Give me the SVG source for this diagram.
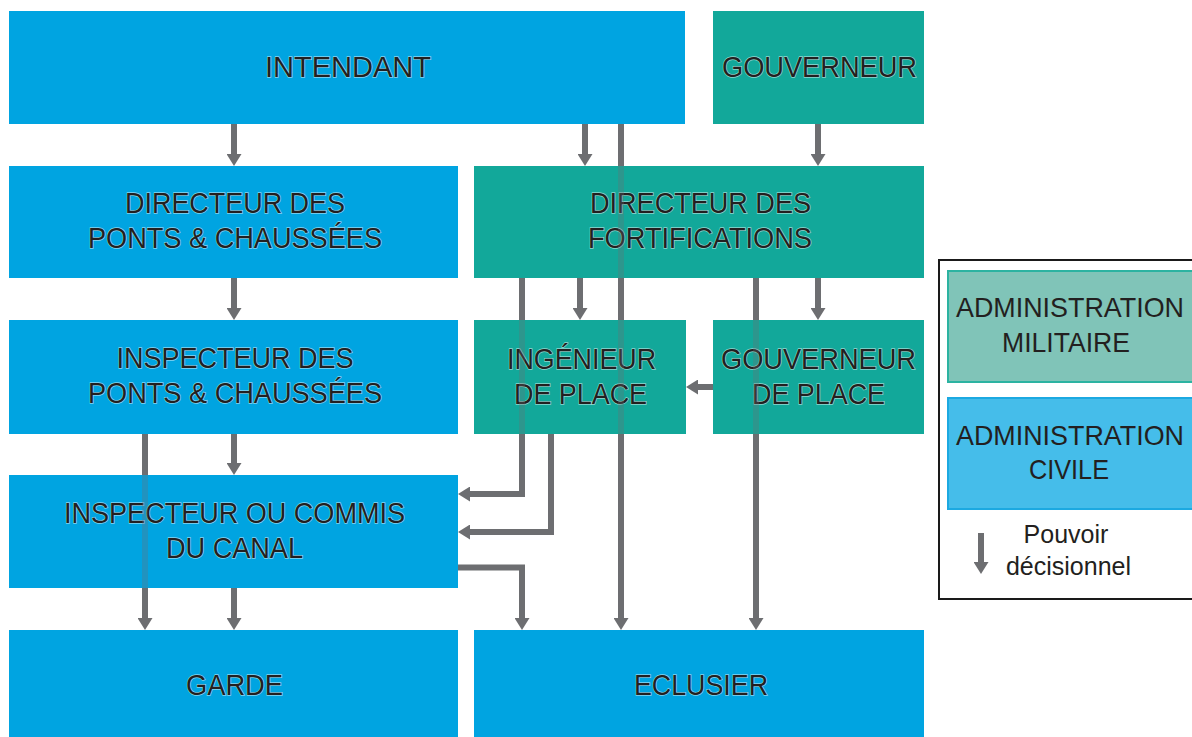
<svg xmlns="http://www.w3.org/2000/svg" width="1192" height="737" viewBox="0 0 1192 737">
  <style>
    .civ { fill: #00a4e1; }
    .mil { fill: #12a89a; }
    .lbl { font-family: "Liberation Sans", Arial, sans-serif; font-size: 30px; fill: #231f20; text-anchor: middle;
           stroke: rgba(255,255,255,0.55); stroke-width: 1.4px; paint-order: stroke fill; }
    .leg { font-family: "Liberation Sans", Arial, sans-serif; font-size: 28px; fill: #231f20; text-anchor: middle; }
    .leg2 { font-family: "Liberation Sans", Arial, sans-serif; font-size: 25px; fill: #231f20; text-anchor: middle; }
    .ln { fill: none; stroke: #6d6e71; stroke-width: 6; }
    .over { fill: none; stroke: #6d6e71; stroke-width: 6; stroke-opacity: 0.3; }
  </style>
  <defs>
    <marker id="arr" viewBox="0 0 12 15" refX="4" refY="7.5" markerWidth="12" markerHeight="15" markerUnits="userSpaceOnUse" orient="auto">
      <path d="M0,0 L12,7.5 L0,15 z" fill="#6d6e71"/>
    </marker>
  </defs>

  <rect width="1192" height="737" fill="#ffffff"/>

  <!-- organisation boxes -->
  <g id="intendant">
    <rect class="civ" x="9" y="11" width="676" height="113"/>
    <text class="lbl" x="348" y="77" textLength="166" lengthAdjust="spacingAndGlyphs">INTENDANT</text>
  </g>
  <g id="gouverneur">
    <rect class="mil" x="713" y="11" width="211" height="113"/>
    <text class="lbl" x="819.5" y="77" textLength="195" lengthAdjust="spacingAndGlyphs">GOUVERNEUR</text>
  </g>
  <g id="directeur-ponts">
    <rect class="civ" x="9" y="166" width="449" height="112"/>
    <text class="lbl" x="235" y="213" textLength="220" lengthAdjust="spacingAndGlyphs">DIRECTEUR DES</text>
    <text class="lbl" x="235" y="248" textLength="294" lengthAdjust="spacingAndGlyphs">PONTS &amp; CHAUSSÉES</text>
  </g>
  <g id="directeur-fortifications">
    <rect class="mil" x="474" y="166" width="450" height="112"/>
    <text class="lbl" x="700.5" y="213" textLength="221" lengthAdjust="spacingAndGlyphs">DIRECTEUR DES</text>
    <text class="lbl" x="700" y="248" textLength="224" lengthAdjust="spacingAndGlyphs">FORTIFICATIONS</text>
  </g>
  <g id="inspecteur-ponts">
    <rect class="civ" x="9" y="320" width="449" height="114"/>
    <text class="lbl" x="235" y="368" textLength="237" lengthAdjust="spacingAndGlyphs">INSPECTEUR DES</text>
    <text class="lbl" x="235" y="403" textLength="294" lengthAdjust="spacingAndGlyphs">PONTS &amp; CHAUSSÉES</text>
  </g>
  <g id="ingenieur-place">
    <rect class="mil" x="474" y="320" width="212" height="114"/>
    <text class="lbl" x="581.5" y="369" textLength="149" lengthAdjust="spacingAndGlyphs">INGÉNIEUR</text>
    <text class="lbl" x="580.5" y="404" textLength="133" lengthAdjust="spacingAndGlyphs">DE PLACE</text>
  </g>
  <g id="gouverneur-place">
    <rect class="mil" x="713" y="320" width="211" height="114"/>
    <text class="lbl" x="818.5" y="369" textLength="195" lengthAdjust="spacingAndGlyphs">GOUVERNEUR</text>
    <text class="lbl" x="818.5" y="404" textLength="133" lengthAdjust="spacingAndGlyphs">DE PLACE</text>
  </g>
  <g id="inspecteur-canal">
    <rect class="civ" x="9" y="475" width="449" height="113"/>
    <text class="lbl" x="234.5" y="523" textLength="341" lengthAdjust="spacingAndGlyphs">INSPECTEUR OU COMMIS</text>
    <text class="lbl" x="234.5" y="558" textLength="137" lengthAdjust="spacingAndGlyphs">DU CANAL</text>
  </g>
  <g id="garde">
    <rect class="civ" x="9" y="630" width="449" height="107"/>
    <text class="lbl" x="234.5" y="695" textLength="97" lengthAdjust="spacingAndGlyphs">GARDE</text>
  </g>
  <g id="eclusier">
    <rect class="civ" x="474" y="630" width="450" height="107"/>
    <text class="lbl" x="701" y="695" textLength="134" lengthAdjust="spacingAndGlyphs">ECLUSIER</text>
  </g>

  <!-- decision lines; parts crossing a box are drawn translucent -->
  <g id="connectors">
    <path class="ln" d="M234,124 V158" marker-end="url(#arr)"/>
    <path class="ln" d="M585,124 V158" marker-end="url(#arr)"/>
    <g>
      <path class="ln" d="M621,124 V166"/>
      <path class="over" d="M621,166 V278"/>
      <path class="ln" d="M621,278 V320"/>
      <path class="over" d="M621,320 V434"/>
      <path class="ln" d="M621,434 V622" marker-end="url(#arr)"/>
    </g>
    <path class="ln" d="M818,124 V158" marker-end="url(#arr)"/>
    <path class="ln" d="M234,278 V312" marker-end="url(#arr)"/>
    <path class="ln" d="M580,278 V312" marker-end="url(#arr)"/>
    <path class="ln" d="M818,278 V312" marker-end="url(#arr)"/>
    <g>
      <path class="ln" d="M522,278 V320"/>
      <path class="over" d="M522,320 V434"/>
      <path class="ln" d="M522,434 V494 H466" marker-end="url(#arr)"/>
    </g>
    <path class="ln" d="M551,434 V532 H466" marker-end="url(#arr)"/>
    <g>
      <path class="ln" d="M756,278 V320"/>
      <path class="over" d="M756,320 V434"/>
      <path class="ln" d="M756,434 V622" marker-end="url(#arr)"/>
    </g>
    <path class="ln" d="M713,387 H694" marker-end="url(#arr)"/>
    <g>
      <path class="ln" d="M145,434 V475"/>
      <path class="over" d="M145,475 V588"/>
      <path class="ln" d="M145,588 V622" marker-end="url(#arr)"/>
    </g>
    <path class="ln" d="M234,434 V467" marker-end="url(#arr)"/>
    <path class="ln" d="M234,588 V622" marker-end="url(#arr)"/>
    <path class="ln" d="M458,567.5 H522 V622" marker-end="url(#arr)"/>
  </g>

  <!-- legend -->
  <g id="legend">
    <rect x="939" y="260" width="262" height="339" fill="#ffffff" stroke="#1a1a1a" stroke-width="2"/>
    <rect x="948" y="271" width="250" height="111" fill="#80c4b8" stroke="#2cb3a1" stroke-width="2"/>
    <text class="leg" x="1070" y="317" textLength="228" lengthAdjust="spacingAndGlyphs">ADMINISTRATION</text>
    <text class="leg" x="1066" y="352" textLength="128" lengthAdjust="spacingAndGlyphs">MILITAIRE</text>
    <rect x="948" y="398" width="250" height="111" fill="#45bdea" stroke="#1ca9e1" stroke-width="2"/>
    <text class="leg" x="1070" y="445" textLength="228" lengthAdjust="spacingAndGlyphs">ADMINISTRATION</text>
    <text class="leg" x="1069" y="479" textLength="80" lengthAdjust="spacingAndGlyphs">CIVILE</text>
    <path class="ln" d="M981,533 V566" marker-end="url(#arr)"/>
    <text class="leg2" x="1066" y="543">Pouvoir</text>
    <text class="leg2" x="1068.5" y="575">décisionnel</text>
  </g>
</svg>
